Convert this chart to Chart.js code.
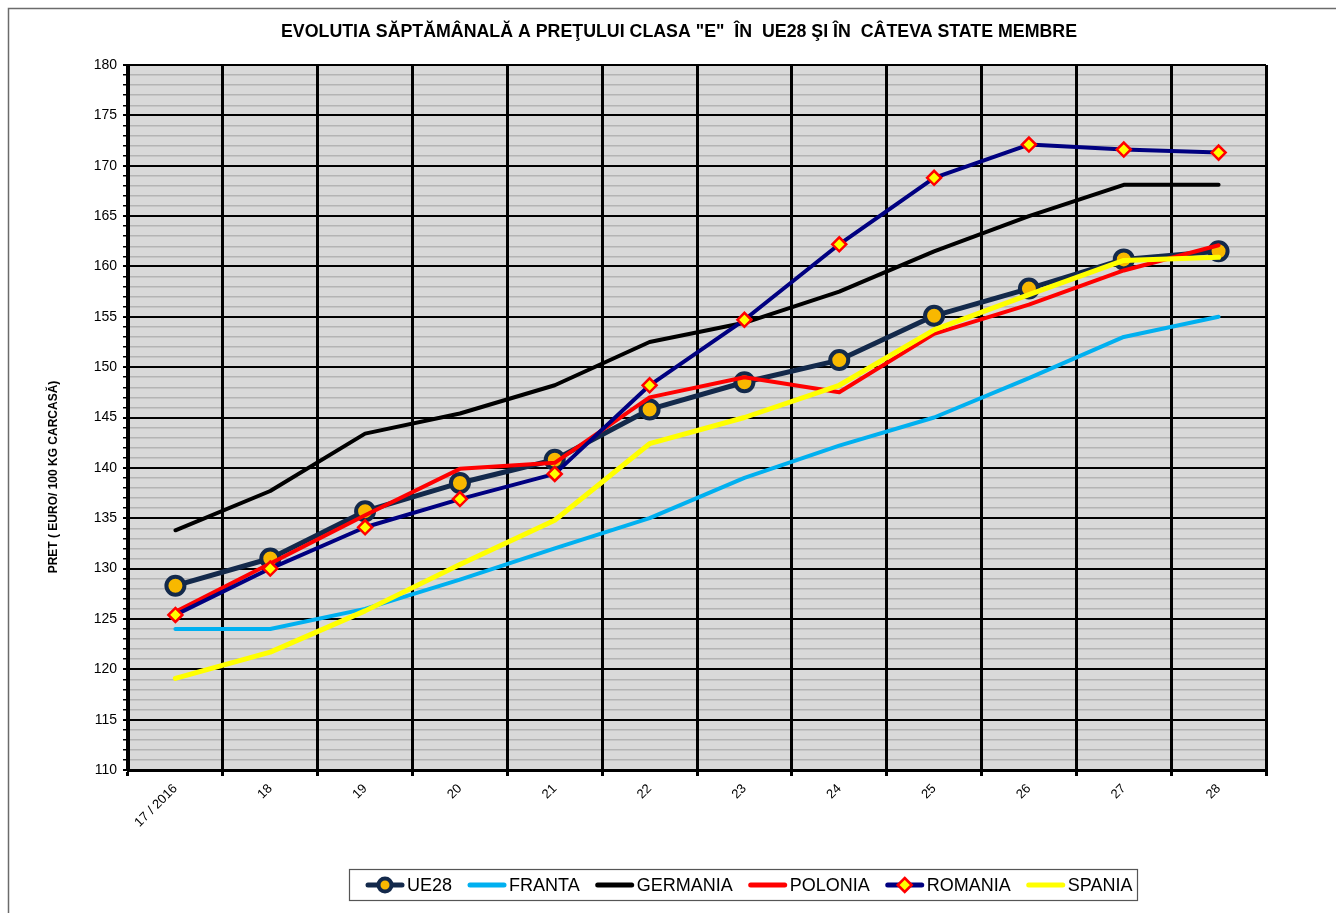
<!DOCTYPE html>
<html>
<head>
<meta charset="utf-8">
<script src="https://cdn.jsdelivr.net/npm/chart.js@4.4.1/dist/chart.umd.min.js"></script>
<style>
  html, body { margin: 0; padding: 0; background: #fff; }
  canvas { display: block; }
</style>
</head>
<body>
<canvas id="priceChart" width="1336" height="913"></canvas>
<script>
/* ---- data ---- */
const weeks    = ['17 / 2016', '18', '19', '20', '21', '22', '23', '24', '25', '26', '27', '28'];
const ue28     = [128.3, 131.0, 135.7, 138.5, 140.8, 145.8, 148.5, 150.7, 155.1, 157.8, 160.7, 161.5];
const franta   = [124.0, 124.0, 126.0, 128.9, 132.0, 135.0, 139.0, 142.2, 145.0, 148.9, 153.0, 155.0];
const germania = [133.8, 137.7, 143.4, 145.4, 148.2, 152.5, 154.4, 157.5, 161.5, 165.0, 168.1, 168.1];
const polonia  = [125.7, 130.5, 135.3, 139.9, 140.5, 147.0, 149.0, 147.5, 153.3, 156.2, 159.6, 162.1];
const romania  = [125.4, 130.0, 134.1, 136.9, 139.4, 148.2, 154.7, 162.2, 168.8, 172.1, 171.6, 171.3];
const spania   = [119.1, 121.7, 125.8, 130.4, 134.8, 142.4, 145.0, 148.2, 153.7, 157.2, 160.6, 160.9];

const yMin = 110, yMax = 180;
const chartTitle = 'EVOLUTIA SĂPTĂMÂNALĂ A PREŢULUI CLASA "E"  ÎN  UE28 ŞI ÎN  CÂTEVA STATE MEMBRE';
const yTitle = 'PRET ( EURO/ 100 KG CARCASĂ)';

const FONT = '"Liberation Sans", Arial, sans-serif';

const lineBase = { fill: false, tension: 0, borderCapStyle: 'round', borderJoinStyle: 'round', pointRadius: 0, pointHoverRadius: 0 };

const datasets = [
    Object.assign({}, lineBase, { label: 'UE28', data: ue28, borderColor: '#13294b', borderWidth: 5,
        pointRadius: 9, pointBorderWidth: 4, pointBorderColor: '#13294b', pointBackgroundColor: '#f8b800', order: 6 }),
    Object.assign({}, lineBase, { label: 'FRANTA', data: franta, borderColor: '#00b0f0', borderWidth: 4, order: 5 }),
    Object.assign({}, lineBase, { label: 'GERMANIA', data: germania, borderColor: '#000000', borderWidth: 4, order: 4 }),
    Object.assign({}, lineBase, { label: 'POLONIA', data: polonia, borderColor: '#ff0000', borderWidth: 4, order: 3 }),
    Object.assign({}, lineBase, { label: 'ROMANIA', data: romania, borderColor: '#000080', borderWidth: 4,
        pointStyle: 'rectRot', pointRadius: 7, pointBorderWidth: 2.5, pointBorderColor: '#ff0000', pointBackgroundColor: '#ffff00', order: 2 }),
    Object.assign({}, lineBase, { label: 'SPANIA', data: spania, borderColor: '#ffff00', borderWidth: 5, order: 1 })
];

// gray plot background, outer frame, titles and the boxed legend
const decorPlugin = {
    id: 'decor',
    beforeDraw(chart) {
        const c = chart.ctx, a = chart.chartArea;
        c.save();
        c.fillStyle = '#d9d9d9';
        c.fillRect(a.left, a.top, a.right - a.left, a.bottom - a.top);
        c.restore();
    },
    afterDraw(chart) {
        const c = chart.ctx;
        c.save();
        // outer frame
        c.strokeStyle = '#6b6b6b';
        c.lineWidth = 1.5;
        c.beginPath();
        c.moveTo(8.5, 913); c.lineTo(8.5, 8.5); c.lineTo(1336, 8.5);
        c.stroke();

        // title
        c.fillStyle = '#000';
        c.font = 'bold 18px ' + FONT;
        c.textAlign = 'center';
        c.textBaseline = 'middle';
        c.fillText(chartTitle, 679, 32, 796);

        // y axis title
        c.save();
        c.translate(54, 477);
        c.rotate(-Math.PI / 2);
        c.font = 'bold 12px ' + FONT;
        c.fillText(yTitle, 0, 0);
        c.restore();

        // legend box
        c.strokeStyle = '#555';
        c.lineWidth = 1.2;
        c.strokeRect(349.5, 869.5, 788, 31);
        c.font = '18px ' + FONT;
        c.textAlign = 'left';
        let x = 366;
        const ly = 885;
        chart.data.datasets.forEach(ds => {
            c.strokeStyle = ds.borderColor;
            c.lineWidth = 5;
            c.lineCap = 'round';
            c.beginPath();
            c.moveTo(x + 2, ly); c.lineTo(x + 36, ly);
            c.stroke();
            if (ds.label === 'UE28') {
                c.beginPath();
                c.arc(x + 19, ly, 6.5, 0, Math.PI * 2);
                c.fillStyle = ds.pointBackgroundColor;
                c.fill();
                c.lineWidth = 4;
                c.strokeStyle = ds.pointBorderColor;
                c.stroke();
            } else if (ds.label === 'ROMANIA') {
                c.beginPath();
                c.moveTo(x + 19, ly - 7); c.lineTo(x + 26, ly); c.lineTo(x + 19, ly + 7); c.lineTo(x + 12, ly);
                c.closePath();
                c.fillStyle = ds.pointBackgroundColor;
                c.fill();
                c.lineWidth = 2.5;
                c.strokeStyle = ds.pointBorderColor;
                c.stroke();
            }
            c.fillStyle = '#000';
            c.fillText(ds.label, x + 41, ly + 1);
            x += 41 + c.measureText(ds.label).width + 16;
        });
        c.restore();
    }
};

const chart = new Chart(document.getElementById('priceChart').getContext('2d'), {
    type: 'line',
    data: { labels: weeks, datasets: datasets },
    options: {
        responsive: false,
        devicePixelRatio: 1,
        animation: false,
        events: [],
        layout: { padding: { left: 0, top: 65, right: 70, bottom: 0 } },
        plugins: {
            legend: { display: false },
            title: { display: false },
            tooltip: { enabled: false }
        },
        scales: {
            x: {
                offset: true,
                afterFit(scale) { scale.height = 143; },
                grid: {
                    offset: true,
                    color: '#000',
                    lineWidth: 3,
                    tickLength: 6,
                    tickColor: '#000',
                    z: -1
                },
                border: { color: '#000', width: 3 },
                ticks: {
                    color: '#000',
                    font: { family: FONT, size: 13 },
                    minRotation: 45,
                    maxRotation: 45,
                    autoSkip: false,
                    padding: 5
                }
            },
            y: {
                min: yMin,
                max: yMax,
                afterFit(scale) { scale.width = 128; },
                grid: {
                    color: ctx => (ctx.tick && ctx.tick.value % 5 === 0) ? '#000' : '#b4b4b4',
                    lineWidth: ctx => (ctx.tick && ctx.tick.value % 5 === 0) ? 2 : 1.5,
                    tickColor: '#000',
                    tickLength: 5,
                    z: -2
                },
                border: { color: '#000', width: 3 },
                ticks: {
                    stepSize: 1,
                    maxTicksLimit: 100,
                    autoSkip: false,
                    color: '#000',
                    padding: 6,
                    font: { family: FONT, size: 14 },
                    callback: v => (v % 5 === 0 ? v : '')
                }
            }
        }
    },
    plugins: [decorPlugin]
});
</script>
</body>
</html>
